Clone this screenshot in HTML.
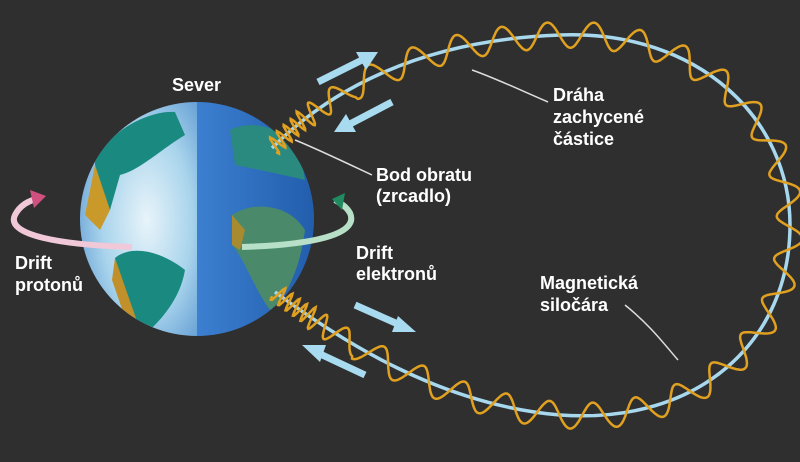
<!DOCTYPE html>
<html><head><meta charset="utf-8"><style>
html,body{margin:0;padding:0;background:#2f2f2f;}
svg{display:block}
text{font-family:"Liberation Sans",sans-serif;font-weight:bold;fill:#fff;font-size:18px}
</style></head><body>
<svg id="s" width="800" height="462" viewBox="0 0 800 462">
<defs>
<radialGradient id="lt" cx="0.6" cy="0.5" r="0.7"><stop offset="0" stop-color="#e8f4fa"/><stop offset="0.5" stop-color="#a9d4ec"/><stop offset="1" stop-color="#4c8ccc"/></radialGradient>
<linearGradient id="rt" x1="0" y1="0" x2="1" y2="0"><stop offset="0" stop-color="#3c7fd0"/><stop offset="1" stop-color="#1f5aa8"/></linearGradient>
<clipPath id="ec"><circle cx="197" cy="219" r="117"/></clipPath>
</defs>
<g clip-path="url(#ec)">
<rect x="70" y="90" width="128" height="260" fill="url(#lt)"/>
<rect x="197" y="90" width="130" height="260" fill="url(#rt)"/>
<path d="M95,160 C110,130 150,110 175,112 L185,135 C160,150 140,170 120,175 L110,210 C100,200 95,185 95,160Z" fill="#1a8a80"/>
<path d="M95,165 L110,210 L100,230 L85,215Z" fill="#c99a2a"/>
<path d="M115,258 C130,245 160,250 185,270 C180,300 160,320 150,330 L140,330 C130,300 115,280 115,258Z" fill="#1a8a80"/>
<path d="M115,258 L140,330 L130,332 L112,280Z" fill="#c2902a"/>
<path d="M230,130 C250,120 280,125 300,150 L305,180 C285,175 260,170 235,165Z" fill="#2a8a80"/>
<path d="M232,215 C255,200 290,205 305,230 C300,270 285,300 270,310 C255,290 245,260 232,245Z" fill="#4a8a6a"/>
<path d="M232,215 L245,230 L240,250 L232,245Z" fill="#a88a30"/>
</g>
<path id="fl" d="M272,148 C330,90 420,40 560,35 C700,30 790,120 790,225 C790,340 700,425 560,415 C440,405 340,340 275,292" fill="none" stroke="#a8d8ee" stroke-width="3.5"/>
<path id="wv" fill="none" stroke="#e0a020" stroke-width="2.5"/>
<path d="M132,247 C60,245 5,235 15,215 C20,205 30,200 40,198" fill="none" stroke="#f0c8d8" stroke-width="6"/>
<path d="M30,190 L46,196 L34,208Z" fill="#d05080"/>
<path d="M242,247 C310,245 360,235 350,213 C346,206 340,203 335,200" fill="none" stroke="#b8e0c8" stroke-width="6"/>
<path d="M345,193 L332,199 L342,210Z" fill="#208a60"/>
<g stroke="#a8daf0" stroke-width="7" fill="#a8daf0">
<line x1="318" y1="82" x2="362" y2="60"/><path d="M378,52 L356,52 L366,70Z" stroke="none"/>
<line x1="392" y1="102" x2="350" y2="124"/><path d="M334,132 L356,132 L346,114Z" stroke="none"/>
<line x1="355" y1="305" x2="400" y2="325"/><path d="M416,332 L398,316 L392,332Z" stroke="none"/>
<line x1="365" y1="375" x2="318" y2="353"/><path d="M302,345 L320,362 L326,345Z" stroke="none"/>
</g>
<g stroke="#ddd" stroke-width="1.5" fill="none">
<path d="M548,102 C520,90 495,78 472,70"/>
<path d="M372,175 C340,160 315,148 295,140"/>
<path d="M625,305 C650,325 665,345 678,360"/>
</g>
<text x="172" y="91">Sever</text>
<text x="553" y="101">Dráha</text><text x="553" y="123">zachycené</text><text x="553" y="145">částice</text>
<text x="376" y="181">Bod obratu</text><text x="376" y="202">(zrcadlo)</text>
<text x="356" y="259">Drift</text><text x="356" y="280">elektronů</text>
<text x="15" y="269">Drift</text><text x="15" y="291">protonů</text>
<text x="540" y="289">Magnetická</text><text x="540" y="311">siločára</text>
</svg>
<script>
var p=document.getElementById('fl'),L=p.getTotalLength(),d='',ph=0;
for(var s=0;s<=L;s+=1){
 var a=p.getPointAtLength(s),b=p.getPointAtLength(Math.min(L,s+1)),c=p.getPointAtLength(Math.max(0,s-1));
 var dx=b.x-c.x,dy=b.y-c.y,n=Math.hypot(dx,dy)||1;
 var e=Math.min(s,L-s);
 var lam=e<40?9:(e<100?9+(e-40)*0.6:45);
 var A=e<40?9:(e<100?11:13);
 ph+=2*Math.PI/lam;
 var o=A*Math.sin(ph);
 d+=(s?'L':'M')+(a.x-dy/n*o).toFixed(1)+','+(a.y+dx/n*o).toFixed(1);
}
document.getElementById('wv').setAttribute('d',d);
</script>
</body></html>
